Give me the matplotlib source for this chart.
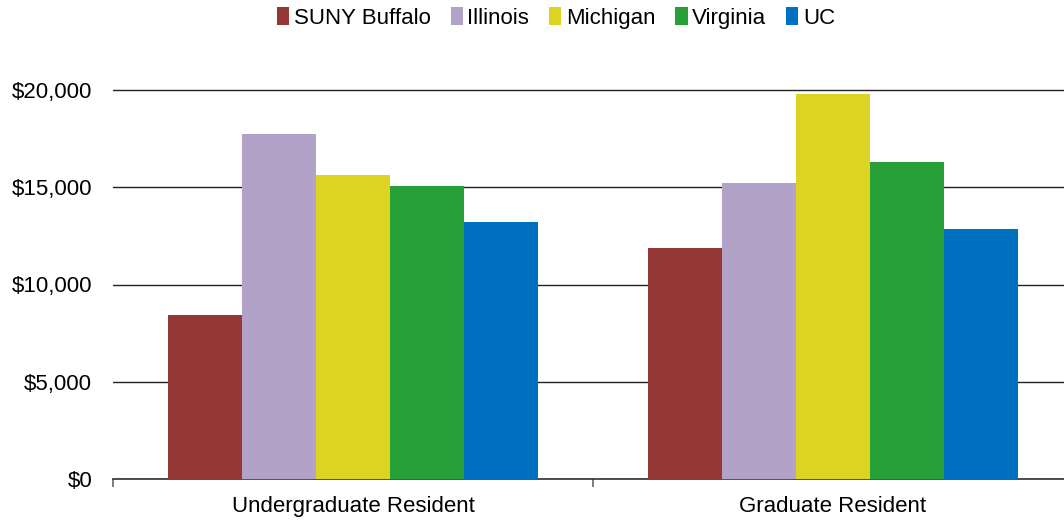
import matplotlib
matplotlib.use("Agg")
import matplotlib.pyplot as plt
import numpy as np
from matplotlib.ticker import FuncFormatter

categories = ["Undergraduate Resident", "Graduate Resident"]
series_names = ["SUNY Buffalo", "Illinois", "Michigan", "Virginia", "UC"]
suny = [8430, 11880]
illinois = [17740, 15220]
michigan = [15630, 19790]
virginia = [15060, 16300]
uc = [13210, 12850]
values = [suny, illinois, michigan, virginia, uc]
colors = ["#953735", "#B3A2C7", "#DDD322", "#28A038", "#0070C0"]
yticks = [0, 5000, 10000, 15000, 20000]

plt.rcParams['font.family'] = ['Liberation Sans', 'DejaVu Sans']

W, H = 1064, 520
fig = plt.figure(figsize=(W / 100, H / 100), dpi=100)
ymax = 20500
left_px, right_px, bottom_px = 113, 1073, 479
top_px = bottom_px - 389 * ymax / 20000
ax = fig.add_axes([left_px / W, 1 - bottom_px / H, (right_px - left_px) / W, (bottom_px - top_px) / H])

x = np.arange(len(categories))
bw = 74 / 480
n = len(series_names)
for i, (name, vals, c) in enumerate(zip(series_names, values, colors)):
    ax.bar(x + (i - (n - 1) / 2) * bw, vals, bw, color=c, label=name, zorder=3)

ax.set_xlim(-0.5, 1.5)
ax.set_ylim(0, ymax)
ax.set_yticks(yticks)
ax.yaxis.set_major_formatter(FuncFormatter(lambda v, p: "${:,.0f}".format(v)))
ax.grid(axis='y', color='#222222', linewidth=1.0, zorder=0)
for s in ['left', 'right', 'top']:
    ax.spines[s].set_visible(False)
ax.spines['bottom'].set_color('#333333')
ax.spines['bottom'].set_linewidth(1.2)
ax.tick_params(axis='y', length=0, labelsize=16, pad=15)
ax.set_xticks(x)
ax.set_xticklabels(categories, fontsize=16)
ax.tick_params(axis='x', length=0, pad=12)
ax.set_xticks([-0.5, 0.5, 1.5], minor=True)
ax.tick_params(axis='x', which='minor', length=6, color='#666666', width=1.2)

handles, labels = ax.get_legend_handles_labels()
fig.legend(handles, labels, loc='center', bbox_to_anchor=(556 / W, 1 - 18 / H), ncol=5,
           frameon=False, fontsize=16, handlelength=0.55, handleheight=0.85,
           handletextpad=0.2, columnspacing=0.9)

fig.savefig("out.png", dpi=100)
